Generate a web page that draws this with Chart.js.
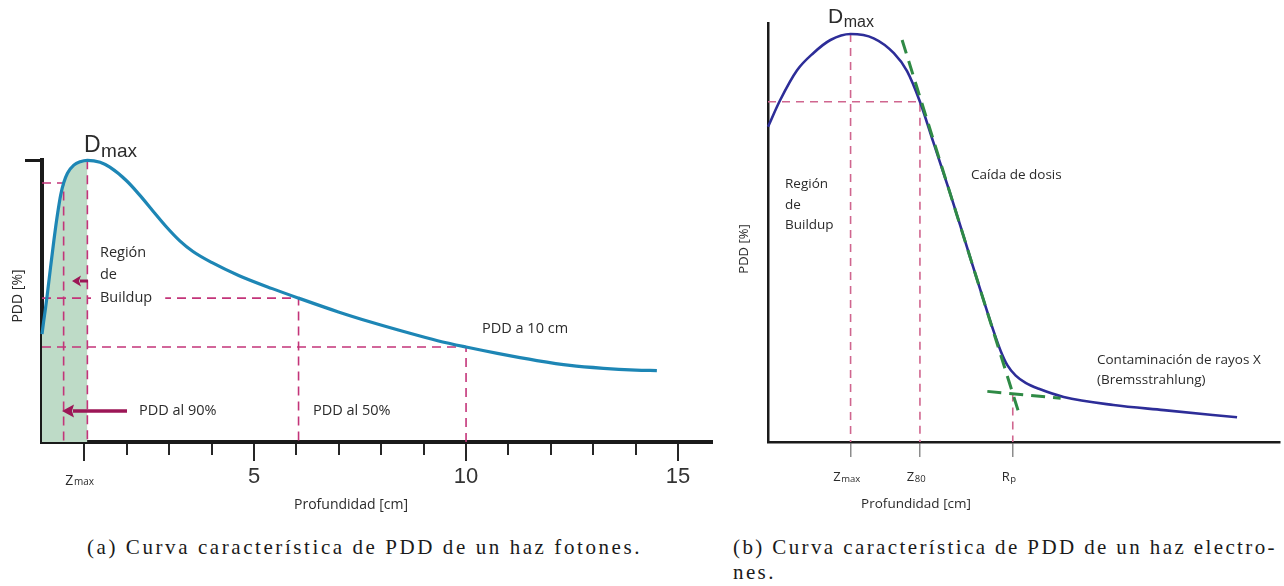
<!DOCTYPE html>
<html lang="es">
<head>
<meta charset="utf-8">
<title>Curvas PDD</title>
<script src="https://cdn.jsdelivr.net/npm/chart.js@4.4.1/dist/chart.umd.min.js"></script>
<style>
  html, body { margin: 0; padding: 0; background: #fff; width: 1284px; height: 586px; overflow: hidden; }
  #wrapA { position: absolute; left: 0; top: 0; width: 720px; height: 520px; }
  #wrapB { position: absolute; left: 720px; top: 0; width: 564px; height: 520px; }
  .cap { position: absolute; font-family: "Liberation Serif", serif; font-size: 21px; color: #1a1a1a; white-space: nowrap; line-height: 24px; }
</style>
</head>
<body>
<div id="wrapA"><canvas id="pddA" width="720" height="520"></canvas></div>
<div id="wrapB"><canvas id="pddB" width="564" height="520"></canvas></div>
<div class="cap" id="capA" style="left:87px; top:535px;">(a) Curva característica de PDD de un haz fotones.</div>
<div class="cap" id="capB1" style="left:733px; top:535px;">(b) Curva característica de PDD de un haz electro-</div>
<div class="cap" id="capB2" style="left:733px; top:560px;">nes.</div>

<script>
// ---------- (a) Haz de fotones ----------
const depthA = [0, 0.04, 0.08, 0.12, 0.2, 0.28, 0.36, 0.44, 0.51, 0.6, 0.75, 0.9, 1.07, 1.37, 1.6, 2.0, 2.31, 2.62, 2.93, 3.25, 3.56,
                4.0, 4.65, 5.43, 6.05, 6.99, 7.77, 8.55, 9.33, 10.0, 10.74, 11.67, 12.45, 13.24, 14.0, 14.5];
const pddA   = [37.5, 42, 46.2, 50.7, 60.5, 70, 78.6, 85.8, 90, 93.4, 96.2, 97.4, 97.9, 97.2, 95.5, 90.7, 85.7, 80.2, 74.8, 69.9, 66.2,
                62.4, 57.8, 53.3, 50, 45.2, 41.6, 38.3, 35.2, 33, 30.8, 28.3, 26.6, 25.6, 25.0, 24.8];
// profundidades de referencia: z90, zmax, z50, 10 cm
const refDepthA = [0.51, 1.07, 6.05, 10];
const refPddA   = [90, 97.9, 50, 33];
const minorTicksA  = [1, 2, 3, 4, 5, 6, 7, 8, 9, 10, 11, 12, 13, 14, 15];
const majorTicksA  = [1, 5, 10, 15];
const majorLabelsA = ['', '5', '10', '15'];

// ---------- (b) Haz de electrones ----------
const depthB = [0, 0.37, 0.88, 1.37, 1.89, 2.5, 3.2, 3.81, 4.21, 4.6, 5.0, 5.5, 6.0, 6.5, 6.85, 7.05, 7.25, 7.5, 7.8, 8.2,
                8.95, 10.46, 11.98, 14.2];
const pddB   = [74.1, 80.4, 87.4, 91.4, 94.5, 95.9, 94.9, 91.4, 87.2, 80, 70.6, 58.8, 46.4, 34.0, 25.6, 21.3, 18.0, 15.6, 13.9, 12.5,
                10.6, 8.7, 7.5, 5.8];
// zmax, z80, Rp
const refDepthB = [2.5, 4.6, 7.41];
const refPddB   = [95.9, 80, 11.4];
const tickSymbolsB = ['Z', 'Z', 'R'];
const tickSubsB    = ['max', '80', 'p'];
// rectas tangentes: caída de dosis y cola de bremsstrahlung
const fallTangentX = [4.06, 7.64];
const fallTangentY = [94.5, 5.7];
const tailTangentX = [6.64, 8.86];
const tailTangentY = [11.9, 10.3];

// ---------- utilidades de dibujo ----------
const pts = (xs, ys) => xs.map((x, i) => ({ x: x, y: ys[i] }));
const SANS = "'Open Sans', sans-serif";

function txt(ctx, s, x, y, font, color, align) {
  ctx.font = font; ctx.fillStyle = color;
  ctx.textAlign = align || 'left'; ctx.textBaseline = 'alphabetic';
  ctx.fillText(s, x, y);
}
function subTxt(ctx, main, sub, x, y, mainFont, subFont, drop, color, align) {
  ctx.font = mainFont; const w1 = ctx.measureText(main).width;
  ctx.font = subFont;  const w2 = ctx.measureText(sub).width;
  const x0 = align === 'center' ? x - (w1 + w2) / 2 : x;
  ctx.fillStyle = color; ctx.textAlign = 'left'; ctx.textBaseline = 'alphabetic';
  ctx.font = mainFont; ctx.fillText(main, x0, y);
  ctx.font = subFont;  ctx.fillText(sub, x0 + w1 + 0.5, y + drop);
}
function arrow(ctx, xt, yt, xh, yh, lw, hl, hw, color) {
  const a = Math.atan2(yh - yt, xh - xt);
  const bx = xh - hl * Math.cos(a), by = yh - hl * Math.sin(a);
  ctx.strokeStyle = color; ctx.fillStyle = color; ctx.lineWidth = lw; ctx.lineCap = 'butt';
  ctx.beginPath(); ctx.moveTo(xt, yt); ctx.lineTo(bx + Math.cos(a), by + Math.sin(a)); ctx.stroke();
  ctx.beginPath();
  ctx.moveTo(xh, yh);
  ctx.lineTo(bx - hw * Math.sin(a), by + hw * Math.cos(a));
  ctx.lineTo(bx + 2 * Math.cos(a), by + 2 * Math.sin(a));
  ctx.lineTo(bx + hw * Math.sin(a), by - hw * Math.cos(a));
  ctx.closePath(); ctx.fill();
}
function rotated(ctx, s, x, y, font, color) {
  ctx.save(); ctx.translate(x, y); ctx.rotate(-Math.PI / 2);
  ctx.font = font; ctx.fillStyle = color; ctx.textAlign = 'center'; ctx.textBaseline = 'middle';
  ctx.fillText(s, 0, 0); ctx.restore();
}

const zeroW = s => { s.width = 0; };
const zeroH = s => { s.height = 0; };

// ---------- gráfico (a) ----------
const magentaA = '#c33479';
const dashA = { borderColor: magentaA, borderWidth: 1.6, borderDash: [9, 6], pointRadius: 0, fill: false, tension: 0, order: 2, clip: false };
const curveA = pts(depthA, pddA);

const labelsA = {
  id: 'labelsA',
  afterDraw(chart) {
    const ctx = chart.ctx, xs = chart.scales.x;
    ctx.save();
    const ink = '#2b2b2b';
    const body = '14.5px ' + SANS;
    subTxt(ctx, 'D', 'max', 84, 152, "23px 'Liberation Sans'", "19px 'Liberation Sans'", 5, ink, 'left');
    txt(ctx, 'Región', 100, 257, body, ink);
    txt(ctx, 'de', 100, 279, body, ink);
    // el rótulo corta la línea de referencia del 50 %
    ctx.font = body;
    ctx.fillStyle = '#fff';
    ctx.fillRect(91, 289, ctx.measureText('Buildup').width + 22, 17);
    txt(ctx, 'Buildup', 100, 302, body, ink);
    txt(ctx, 'PDD al 90%', 139, 415, body, ink);
    txt(ctx, 'PDD al 50%', 313, 415, body, ink);
    txt(ctx, 'PDD a 10 cm', 482, 333, body, ink);
    subTxt(ctx, 'Z', 'max', xs.getPixelForValue(majorTicksA[0]) - 5, 485, '14px ' + SANS, '10px ' + SANS, 0, ink, 'center');
    txt(ctx, 'Profundidad [cm]', 351, 509, '14px ' + SANS, ink, 'center');
    rotated(ctx, 'PDD [%]', 18, 296, '14px ' + SANS, ink);
    arrow(ctx, 88, 281, 72, 281, 3, 9, 5.5, '#9c1656');
    arrow(ctx, 127, 411, 62, 411, 3.5, 12, 6.5, '#9c1656');
    ctx.restore();
  }
};

new Chart(document.getElementById('pddA'), {
  type: 'line',
  data: {
    datasets: [
      { data: curveA, borderColor: '#1d86b5', borderWidth: 3.2, pointRadius: 0, cubicInterpolationMode: 'monotone', fill: false, order: 0, clip: false },
      { ...dashA, data: [{ x: 0, y: refPddA[0] }, { x: refDepthA[0], y: refPddA[0] }, { x: refDepthA[0], y: 0 }] },
      { ...dashA, data: [{ x: refDepthA[1], y: refPddA[1] }, { x: refDepthA[1], y: 0 }] },
      { ...dashA, data: [{ x: 0, y: refPddA[2] }, { x: refDepthA[2], y: refPddA[2] }, { x: refDepthA[2], y: 0 }] },
      { ...dashA, data: [{ x: 0, y: refPddA[3] }, { x: refDepthA[3], y: refPddA[3] }, { x: refDepthA[3], y: 0 }] },
      { data: curveA.filter(p => p.x <= refDepthA[1]), borderWidth: 0, borderColor: 'rgba(0,0,0,0)', pointRadius: 0,
        cubicInterpolationMode: 'monotone', fill: 'origin', backgroundColor: '#bedbc7', order: 5 }
    ]
  },
  options: {
    responsive: false, animation: false, devicePixelRatio: 1,
    layout: { padding: { left: 42, right: 8, top: 160, bottom: 18 } },
    plugins: { legend: { display: false }, tooltip: { enabled: false } },
    scales: {
      x: {
        type: 'linear', min: 0, max: 15.8, weight: 0, afterFit: zeroH,
        afterBuildTicks: s => { s.ticks = minorTicksA.map(v => ({ value: v })); },
        border: { display: true, width: 4, color: '#1a1a1a' },
        grid: { drawOnChartArea: false, drawTicks: true, tickLength: 13, lineWidth: 2, color: '#262626' },
        ticks: { display: false }
      },
      x2: {
        type: 'linear', position: 'bottom', min: 0, max: 15.8, weight: 1,
        afterFit: s => { s.height = 60; },
        afterBuildTicks: s => { s.ticks = majorTicksA.map(v => ({ value: v })); },
        border: { display: false },
        grid: { drawOnChartArea: false, drawTicks: true, tickLength: 19, lineWidth: 2, color: '#262626' },
        ticks: { display: true, autoSkip: false, maxRotation: 0, minRotation: 0, padding: 3, color: '#333',
                 font: { family: 'Liberation Sans', size: 22 },
                 callback: (v, i) => majorLabelsA[i] }
      },
      y: {
        type: 'linear', min: 0, max: 98, afterFit: zeroW,
        afterBuildTicks: s => { s.ticks = [{ value: 98 }]; },
        border: { display: true, width: 4, color: '#1a1a1a' },
        grid: { drawOnChartArea: false, drawTicks: true, tickLength: 17, lineWidth: 3, color: '#1a1a1a' },
        ticks: { display: false }
      }
    }
  },
  plugins: [labelsA]
});

// ---------- gráfico (b) ----------
const dashB  = { borderColor: '#d0668f', borderWidth: 1.6, borderDash: [8, 6], pointRadius: 0, fill: false, tension: 0, order: 3, clip: false };
const greenB = { borderColor: '#2f8a45', borderWidth: 3, borderDash: [14, 8], pointRadius: 0, fill: false, tension: 0, order: 0, clip: false };

const labelsB = {
  id: 'labelsB',
  afterDraw(chart) {
    const ctx = chart.ctx, xs = chart.scales.x;
    ctx.save();
    const ink = '#2b2b2b';
    const body = '13.5px ' + SANS;
    subTxt(ctx, 'D', 'max', 108, 23, "21px 'Liberation Sans'", "16px 'Liberation Sans'", 4, ink, 'left');
    txt(ctx, 'Región', 65, 188, body, ink);
    txt(ctx, 'de', 65, 209, body, ink);
    txt(ctx, 'Buildup', 65, 229, body, ink);
    txt(ctx, 'Caída de dosis', 251, 179, body, ink);
    txt(ctx, 'Contaminación de rayos X', 377, 364, body, ink);
    txt(ctx, '(Bremsstrahlung)', 377, 384, body, ink);
    refDepthB.forEach((d, i) => {
      subTxt(ctx, tickSymbolsB[i], tickSubsB[i], xs.getPixelForValue(d) - 4, 481, '13px ' + SANS, '9.5px ' + SANS, 1, ink, 'center');
    });
    txt(ctx, 'Profundidad [cm]', 196, 508, body, ink, 'center');
    rotated(ctx, 'PDD [%]', 24, 249, '13px ' + SANS, ink);
    ctx.restore();
  }
};

new Chart(document.getElementById('pddB'), {
  type: 'line',
  data: {
    datasets: [
      { data: pts(depthB, pddB), borderColor: '#2d2d98', borderWidth: 2.6, pointRadius: 0, cubicInterpolationMode: 'monotone', fill: false, order: 1, clip: false },
      { ...greenB, data: pts(fallTangentX, fallTangentY) },
      { ...greenB, data: pts(tailTangentX, tailTangentY) },
      { ...dashB, data: [{ x: refDepthB[0], y: refPddB[0] }, { x: refDepthB[0], y: 0 }] },
      { ...dashB, data: [{ x: 0, y: refPddB[1] }, { x: refDepthB[1], y: refPddB[1] }, { x: refDepthB[1], y: 0 }] },
      { ...dashB, data: [{ x: refDepthB[2], y: refPddB[2] }, { x: refDepthB[2], y: 0 }] }
    ]
  },
  options: {
    responsive: false, animation: false, devicePixelRatio: 1,
    layout: { padding: { left: 48, right: 4, top: 23, bottom: 78 } },
    plugins: { legend: { display: false }, tooltip: { enabled: false } },
    scales: {
      x: {
        type: 'linear', min: 0, max: 15.5, afterFit: zeroH,
        afterBuildTicks: s => { s.ticks = refDepthB.map(v => ({ value: v })); },
        border: { display: true, width: 2.5, color: '#1a1a1a' },
        grid: { drawOnChartArea: false, drawTicks: true, tickLength: 15, lineWidth: 1.5, color: '#8c8c8c' },
        ticks: { display: false }
      },
      y: {
        type: 'linear', min: 0, max: 98.5, afterFit: zeroW,
        border: { display: true, width: 2.5, color: '#1a1a1a' },
        grid: { display: false },
        ticks: { display: false }
      }
    }
  },
  plugins: [labelsB]
});

// ---------- pies de figura (texto justificado) ----------
function fitWidth(id, target, n) {
  const el = document.getElementById(id);
  el.style.letterSpacing = '0px';
  const w = el.getBoundingClientRect().width;
  const ls = (target - w) / (n || el.textContent.length);
  el.style.letterSpacing = ls + 'px';
  return ls;
}
function layoutCaptions() {
  fitWidth('capA', 555);
  const ls = fitWidth('capB1', 544);
  document.getElementById('capB2').style.letterSpacing = ls + 'px';
}
layoutCaptions();
if (document.fonts && document.fonts.ready) document.fonts.ready.then(layoutCaptions);
</script>
</body>
</html>
